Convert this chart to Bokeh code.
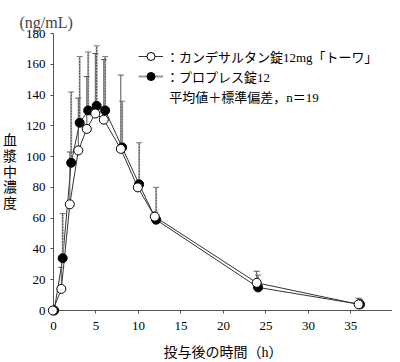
from bokeh.plotting import figure
from bokeh.models import Range1d, Legend, LegendItem, ColumnDataSource, FixedTicker
from bokeh.transform import dodge
from bokeh.embed import file_html
from bokeh.resources import INLINE

# ---- data ----
time_h = [0, 1, 2, 3, 4, 5, 6, 8, 10, 12, 24, 36]
towa_mean = [0, 14, 69, 104, 118, 128, 124, 105, 80, 61, 18, 4]
towa_sd = [0, 14, 34, 34, 34, 39, 39, 48, 3, 3, 7.5, 4]
blop_mean = [0, 34, 96, 122, 130, 133, 130, 106, 82, 59, 15, 4]
blop_sd = [0, 29, 46, 43, 38, 39, 35, 30, 27, 21, 8, 3]
x_ticks = [0, 5, 10, 15, 20, 25, 30, 35]
y_ticks = [0, 20, 40, 60, 80, 100, 120, 140, 160, 180]
label_towa = "：カンデサルタン錠12mg「トーワ」"
label_blop = "：プロプレス錠12"
label_note = " 平均値＋標準偏差，n＝19"
y_unit = "(ng/mL)"
x_title = "投与後の時間（h）"
y_title = "血\n漿\n中\n濃\n度"

FONT = "'Liberation Serif', 'Noto Sans CJK JP', serif"

src = ColumnDataSource(dict(
    t=time_h,
    tm=towa_mean,
    ttop=[m + s for m, s in zip(towa_mean, towa_sd)],
    bm=blop_mean,
    btop=[m + s for m, s in zip(blop_mean, blop_sd)],
))

p = figure(width=392, height=362, output_backend="svg", toolbar_location=None,
           x_range=Range1d(0, 39.9), y_range=Range1d(0, 180),
           min_border_left=46, min_border_right=0, min_border_top=33, min_border_bottom=40)
p.background_fill_color = None
p.border_fill_color = "white"
p.outline_line_color = None
p.grid.visible = False

p.title.text = y_unit
p.title.align = "left"
p.title.offset = -34
p.title.text_font = FONT
p.title.text_font_size = "16px"
p.title.text_font_style = "normal"
p.title.standoff = 6

for ax in (p.xaxis[0], p.yaxis[0]):
    ax.axis_line_color = "#555555"
    ax.major_tick_line_color = "#555555"
    ax.minor_tick_line_color = None
    ax.major_tick_in = 0
    ax.major_tick_out = 3
    ax.major_label_text_font = FONT
    ax.major_label_text_font_size = "13px"
    ax.major_label_text_color = "black"
    ax.axis_label_text_font = FONT
    ax.axis_label_text_font_size = "14px"
    ax.axis_label_text_font_style = "normal"
    ax.axis_label_text_color = "black"

p.xaxis.ticker = FixedTicker(ticks=x_ticks)
p.yaxis.ticker = FixedTicker(ticks=y_ticks)
p.xaxis.major_label_standoff = 8
p.yaxis.major_label_standoff = 5
p.xaxis.axis_label = x_title
p.xaxis.axis_label_standoff = 12
p.yaxis.axis_label = y_title
p.yaxis.axis_label_orientation = "horizontal"
p.yaxis.axis_label_standoff = 6
p.yaxis.axis_label_text_line_height = 1.05

xt = dodge("t", -0.08, range=p.x_range)
xb = dodge("t", 0.08, range=p.x_range)

# mean lines
l_towa = p.line(x=xt, y="tm", source=src, line_color="#333333", line_width=1)
l_blop = p.line(x=xb, y="bm", source=src, line_color="#333333", line_width=1)

# error bars (mean + SD)
p.segment(x0=xb, y0="bm", x1=xb, y1="btop", source=src,
          line_color="#bbbbbb", line_width=2)
p.segment(x0=xb, y0="bm", x1=xb, y1="btop", source=src,
          line_color="#444444", line_width=1, line_dash="2 1")
p.scatter(x=xb, y="btop", source=src, marker="dash", size=6,
          line_color="#777777", line_width=1)
p.segment(x0=xt, y0="tm", x1=xt, y1="ttop", source=src,
          line_color="#555555", line_width=1)
p.scatter(x=xt, y="ttop", source=src, marker="dash", size=6,
          line_color="#555555", line_width=1)

# markers
s_blop = p.scatter(x=xb, y="bm", source=src, marker="circle", size=9,
                   fill_color="black", line_color="black", line_width=1, level="overlay")
s_towa = p.scatter(x=xt, y="tm", source=src, marker="circle", size=9,
                   fill_color="white", line_color="black", line_width=1, level="overlay")

# legend-only renderers
lg_blop_line = p.line(x=[0, 1], y=[-50, -50], line_color="#999999", line_width=2)
dummy = p.scatter(x=[], y=[], size=1, fill_alpha=0, line_alpha=0)

legend = Legend(items=[
    LegendItem(label=label_towa, renderers=[l_towa, s_towa]),
    LegendItem(label=label_blop, renderers=[lg_blop_line, s_blop]),
    LegendItem(label=label_note, renderers=[dummy]),
], location=(85, 204))
legend.background_fill_alpha = 0
legend.border_line_color = None
legend.padding = 0
legend.spacing = 0
legend.margin = 0
legend.glyph_width = 25
legend.glyph_height = 20
legend.label_height = 20
legend.label_standoff = 3
legend.label_text_font = FONT
legend.label_text_font_size = "13px"
legend.label_text_color = "black"
p.add_layout(legend)

open("out.html", "w").write(file_html(p, INLINE))
